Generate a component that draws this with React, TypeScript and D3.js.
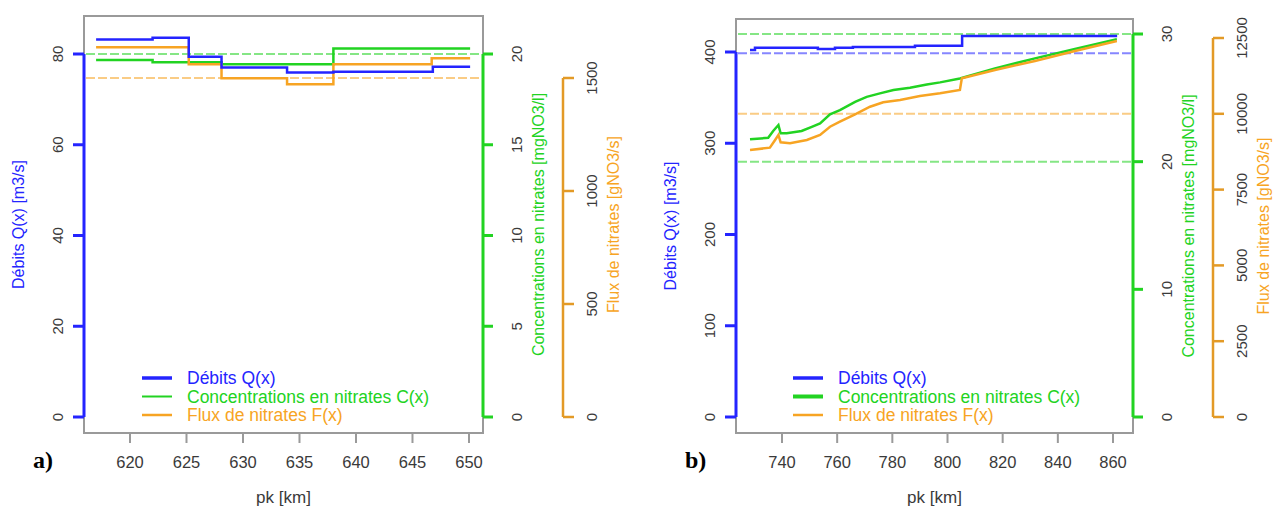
import React from "react";
import * as d3 from "d3";

// ---- panel a) data (pk km, value) ----
const debitsA: [number, number][] = [
  [617, 83.2], [622, 83.6], [625.2, 79.4], [628.1, 77.0], [633.9, 75.9], [638, 76.1], [646.8, 77.2], [650.1, 77.2],
];
const concA: [number, number][] = [
  [617, 19.67], [622, 19.54], [628.1, 19.43], [638, 20.3], [650.1, 20.3],
];
const fluxA: [number, number][] = [
  [617, 1636], [625.2, 1561], [628.1, 1499], [633.9, 1472], [638, 1561], [646.7, 1587], [650.1, 1587],
];

// ---- panel b) data ----
const debitsB: [number, number][] = [
  [728.4, 402.2], [730.2, 404.7], [753, 403.3], [759.2, 404.7], [765.7, 405.5], [788.2, 406.9], [805.3, 417.5], [861.5, 417.5],
];
const concB: [number, number][] = [
  [728.4, 21.75], [735.0, 21.87], [736.8, 22.4], [738.7, 22.87], [739.5, 22.22], [741.7, 22.22], [747.1, 22.4],
  [750.8, 22.73], [753.8, 23.0], [757.4, 23.7], [761.0, 24.04], [766.5, 24.69], [770.7, 25.08], [775.5, 25.35],
  [780.4, 25.61], [786.4, 25.79], [792.5, 26.05], [797.3, 26.21], [804.5, 26.52], [817.2, 27.31], [831.7, 28.09],
  [846.2, 28.82], [861.4, 29.6],
];
const fluxB: [number, number][] = [
  [728.4, 8806], [735.6, 8882], [737.5, 9136], [738.7, 9301], [739.5, 9060], [742.9, 9027], [749.0, 9136],
  [753.8, 9301], [757.4, 9575], [761.0, 9740], [766.5, 9983], [771.9, 10234], [776.7, 10379], [782.8, 10455],
  [790.0, 10587], [797.3, 10676], [804.5, 10785], [805.2, 11171], [817.2, 11445], [831.7, 11741], [846.2, 12071],
  [861.4, 12401],
];

// ticks
const xTicksA = [620, 625, 630, 635, 640, 645, 650];
const qTicksA = [0, 20, 40, 60, 80];
const cTicksA = [0, 5, 10, 15, 20];
const fTicksA = [0, 500, 1000, 1500];
const xTicksB = [740, 760, 780, 800, 820, 840, 860];
const qTicksB = [0, 100, 200, 300, 400];
const cTicksB = [0, 10, 20, 30];
const fTicksB = [0, 2500, 5000, 7500, 10000, 12500];

// reference (dotted) levels
const qRefB = [398.6];
const cRefA = [20];
const cRefB = [20, 30];
const fRefA = [1500];
const fRefB = [10000];

const legendLabels = ["Débits Q(x)", "Concentrations en nitrates C(x)", "Flux de nitrates F(x)"];

const BLUE = "#2424ff";
const GREEN = "#22d322";
const ORANGE = "#f7a423";
const ORANGE_AX = "#e39a26";
const GREY = "#9a9a9a";
const TXT = "#3a3a3a";
const FONT = "'Liberation Sans', Arial, sans-serif";

type Cfg = {
  tag: string;
  box: { left: number; right: number; top: number; bottom: number };
  xDomain: [number, number];
  xTicks: number[];
  q: [number, number][]; c: [number, number][]; f: [number, number][];
  qDom: [number, number]; qRange: [number, number]; qTicks: number[]; qRef: number[];
  cDom: [number, number]; cRange: [number, number]; cTicks: number[]; cRef: number[];
  fDom: [number, number]; fRange: [number, number]; fTicks: number[]; fRef: number[];
  fAxisX: number;
  allStep: boolean;
  legendX: number;
  greenLegendW: number;
};

const cfgA: Cfg = {
  tag: "a)",
  box: { left: 84, right: 483, top: 16, bottom: 433 },
  xDomain: [615.93, 651.24], xTicks: xTicksA,
  q: debitsA, c: concA, f: fluxA,
  qDom: [0, 80], qRange: [417, 54], qTicks: qTicksA, qRef: [],
  cDom: [0, 20], cRange: [417, 54], cTicks: cTicksA, cRef: cRefA,
  fDom: [0, 1500], fRange: [417, 78], fTicks: fTicksA, fRef: fRefA,
  fAxisX: 563, allStep: true, legendX: 142, greenLegendW: 2,
};

const cfgB: Cfg = {
  tag: "b)",
  box: { left: 736, right: 1133, top: 19, bottom: 433 },
  xDomain: [723.32, 867.25], xTicks: xTicksB,
  q: debitsB, c: concB, f: fluxB,
  qDom: [0, 400], qRange: [417, 52], qTicks: qTicksB, qRef: qRefB,
  cDom: [0, 30], cRange: [417, 34], cTicks: cTicksB, cRef: cRefB,
  fDom: [0, 12500], fRange: [417, 38], fTicks: fTicksB, fRef: fRefB,
  fAxisX: 1213, allStep: false, legendX: 793, greenLegendW: 4,
};

function vText(x: number, y: number, s: string, color: string, size: number, key?: string) {
  return (
    <text key={key} transform={`translate(${x},${y}) rotate(-90)`} textAnchor="middle"
      dominantBaseline="central" fill={color} fontSize={size} fontFamily={FONT}>{s}</text>
  );
}

function Panel({ cfg }: { cfg: Cfg }) {
  const b = cfg.box;
  const x = d3.scaleLinear().domain(cfg.xDomain).range([b.left, b.right]);
  const yQ = d3.scaleLinear().domain(cfg.qDom).range(cfg.qRange);
  const yC = d3.scaleLinear().domain(cfg.cDom).range(cfg.cRange);
  const yF = d3.scaleLinear().domain(cfg.fDom).range(cfg.fRange);
  const mk = (ys: d3.ScaleLinear<number, number>, step: boolean) =>
    d3.line<[number, number]>().x(d => x(d[0])).y(d => ys(d[1])).curve(step ? d3.curveStepAfter : d3.curveLinear);
  const midY = (b.top + b.bottom) / 2;
  const qAx = b.left, cAx = b.right, fAx = cfg.fAxisX;

  const ref = (ys: d3.ScaleLinear<number, number>, v: number, col: string, k: string) => (
    <line key={k} x1={b.left + 2} x2={b.right - 2} y1={ys(v)} y2={ys(v)} stroke={col}
      strokeWidth={2} strokeDasharray="9,3" opacity={0.55} />
  );

  return (
    <g>
      {/* frame */}
      <rect x={b.left} y={b.top} width={b.right - b.left} height={b.bottom - b.top} fill="none" stroke={GREY} strokeWidth={2} />
      {/* reference levels */}
      {cfg.qRef.map((v, i) => ref(yQ, v, BLUE, "q" + i))}
      {cfg.cRef.map((v, i) => ref(yC, v, GREEN, "c" + i))}
      {cfg.fRef.map((v, i) => ref(yF, v, ORANGE, "f" + i))}
      {/* series */}
      <path d={mk(yC, cfg.allStep)(cfg.c) ?? ""} fill="none" stroke={GREEN} strokeWidth={2.5} />
      <path d={mk(yF, cfg.allStep)(cfg.f) ?? ""} fill="none" stroke={ORANGE} strokeWidth={2.5} />
      <path d={mk(yQ, true)(cfg.q) ?? ""} fill="none" stroke={BLUE} strokeWidth={2.5} />

      {/* x axis */}
      {cfg.xTicks.map(t => (
        <g key={"x" + t}>
          <line x1={x(t)} x2={x(t)} y1={b.bottom} y2={b.bottom + 10} stroke={GREY} strokeWidth={2} />
          <text x={x(t)} y={468} textAnchor="middle" fontSize={16.5} fill={TXT} fontFamily={FONT}>{t}</text>
        </g>
      ))}
      <text x={(b.left + b.right) / 2} y={503} textAnchor="middle" fontSize={17} fill={TXT} fontFamily={FONT}>pk [km]</text>
      <text x={b.left - 51} y={468} fontSize={24} fontWeight="bold" fill="#000" fontFamily="'Liberation Serif', 'Times New Roman', serif">{cfg.tag}</text>

      {/* left axis: debits */}
      <line x1={qAx} x2={qAx} y1={yQ(cfg.qTicks[0])} y2={yQ(cfg.qTicks[cfg.qTicks.length - 1])} stroke={BLUE} strokeWidth={3} />
      {cfg.qTicks.map(t => (
        <g key={"q" + t}>
          <line x1={qAx} x2={qAx - 11} y1={yQ(t)} y2={yQ(t)} stroke={BLUE} strokeWidth={3} />
          {vText(qAx - 27, yQ(t), String(t), TXT, 15)}
        </g>
      ))}
      {vText(qAx - 66, midY, "Débits Q(x) [m3/s]", BLUE, 16)}

      {/* right axis 1: concentrations */}
      <line x1={cAx} x2={cAx} y1={yC(cfg.cTicks[0])} y2={yC(cfg.cTicks[cfg.cTicks.length - 1])} stroke={GREEN} strokeWidth={3} />
      {cfg.cTicks.map(t => (
        <g key={"c" + t}>
          <line x1={cAx} x2={cAx + 10} y1={yC(t)} y2={yC(t)} stroke={GREEN} strokeWidth={3} />
          {vText(cAx + 33, yC(t), String(t), TXT, 15)}
        </g>
      ))}
      {vText(cAx + 55, midY, "Concentrations en nitrates [mgNO3/l]", GREEN, 16)}

      {/* right axis 2: flux */}
      <line x1={fAx} x2={fAx} y1={yF(cfg.fTicks[0])} y2={yF(cfg.fTicks[cfg.fTicks.length - 1])} stroke={ORANGE_AX} strokeWidth={2.5} />
      {cfg.fTicks.map(t => (
        <g key={"f" + t}>
          <line x1={fAx} x2={fAx + 11} y1={yF(t)} y2={yF(t)} stroke={ORANGE_AX} strokeWidth={2.5} />
          {vText(fAx + 28, yF(t), String(t), TXT, 15)}
        </g>
      ))}
      {vText(fAx + 50, midY, "Flux de nitrates [gNO3/s]", ORANGE, 16)}

      {/* legend */}
      {legendLabels.map((s, i) => {
        const col = [BLUE, GREEN, ORANGE][i];
        const w = [3.5, cfg.greenLegendW, 2.5][i];
        const y = 378 + i * 18.5;
        return (
          <g key={"l" + i}>
            <line x1={cfg.legendX} x2={cfg.legendX + 30} y1={y} y2={y} stroke={col} strokeWidth={w} />
            <text x={cfg.legendX + 45} y={y} dominantBaseline="central" fontSize={17.5} fill={col} fontFamily={FONT}>{s}</text>
          </g>
        );
      })}
    </g>
  );
}

export default function App() {
  return (
    <svg width={1279} height={507} style={{ position: "absolute", left: 0, top: 0, background: "#fff" }}>
      <rect width={1279} height={507} fill="#fff" />
      <Panel cfg={cfgA} />
      <Panel cfg={cfgB} />
    </svg>
  );
}
